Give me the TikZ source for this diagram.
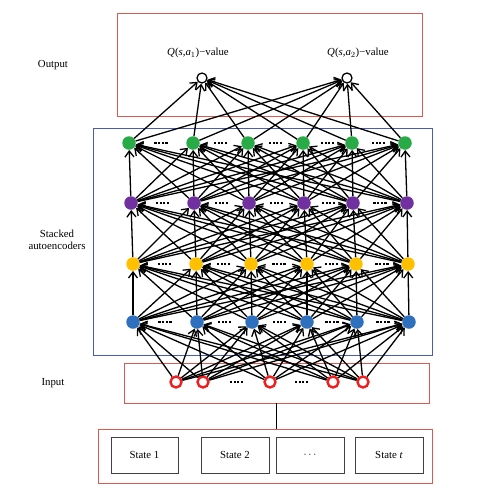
\documentclass[tikz,border=0pt]{standalone}
\usepackage{fontspec}
\setmainfont{Liberation Serif}
\usepackage{tikz}
\usetikzlibrary{arrows.meta,positioning,calc}

\definecolor{frameRed}{RGB}{222,88,78}
\definecolor{frameBlue}{RGB}{72,92,180}
\definecolor{nodeGreen}{RGB}{40,170,70}
\definecolor{nodePurple}{RGB}{112,48,160}
\definecolor{nodeYellow}{RGB}{255,192,0}
\definecolor{nodeBlue}{RGB}{46,112,190}
\definecolor{ringRed}{RGB}{240,30,30}

\newcommand{\fourdots}{\rule{2.2pt}{2.2pt}\hspace{1.5pt}\rule{2.2pt}{2.2pt}\hspace{1.5pt}\rule{2.2pt}{2.2pt}\hspace{1.5pt}\rule{2.2pt}{2.2pt}}

\begin{document}
\begin{tikzpicture}[x=1pt,y=-1pt,
  every node/.style={font=\fontsize{10.8}{12.5}\selectfont},
  unit/.style={circle, inner sep=0pt, minimum size=13.5pt},
  outunit/.style={circle, draw=black, line width=1.3pt, inner sep=0pt, minimum size=10pt},
  inunit/.style={circle, draw=ringRed, line width=2.4pt, inner sep=0pt, minimum size=11pt},
  frame/.style={draw, line width=0.9pt, inner sep=0pt},
  statebox/.style={draw=black!75, line width=1pt, minimum width=68pt, minimum height=36pt},
  edge/.style={line width=1.3pt, -{Straight Barb[length=6pt,width=9pt]}},
  dots/.style={inner sep=0pt}]

\useasboundingbox (0,0) rectangle (487,491);

% Frames
\node[frame, draw=frameRed, minimum width=305pt, minimum height=103pt] (outbox) at (269.5,64.5) {};
\node[frame, draw=frameBlue, minimum width=339pt, minimum height=227pt] (saebox) at (262.5,241.5) {};
\node[frame, draw=frameRed, minimum width=305pt, minimum height=40pt] (inbox) at (276.5,383) {};
\node[frame, draw=frameRed, minimum width=334pt, minimum height=54pt] (stbox) at (265,456) {};

% Side labels
\node (lout) at (53,65) {Output};
\node[align=center] (lsae) at (57,240) {Stacked\\autoencoders};
\node (lin) at (53,383) {Input};

% Output units
\node[outunit] (q1) at (202,78) {};
\node[outunit] (q2) at (347,78) {};
\node (lq1) at (198,53) {\textit{Q}(\textit{s},\textit{a}$_1$)−value};
\node (lq2) at (358,53) {\textit{Q}(\textit{s},\textit{a}$_2$)−value};

% Hidden layers
\foreach \x [count=\i] in {129,193,248,303,352,405}
  \node[unit, fill=nodeGreen] (g\i) at (\x,143) {};
\foreach \x [count=\i] in {131,194,249,304,353,407}
  \node[unit, fill=nodePurple] (p\i) at (\x,203) {};
\foreach \x [count=\i] in {133,196,251,307,356,408}
  \node[unit, fill=nodeYellow] (y\i) at (\x,264) {};
\foreach \x [count=\i] in {133,197,252,307,357,409}
  \node[unit, fill=nodeBlue] (b\i) at (\x,322) {};

% Input units
\foreach \x [count=\i] in {176,203,270,333,363}
  \node[inunit] (in\i) at (\x,382) {};

% Dots between units
\foreach \l in {g,p,y,b}
  \foreach \i/\j in {1/2,2/3,3/4,4/5,5/6}
    \node[dots] at ($(\l\i)!0.5!(\l\j)$) {\fourdots};
\node[dots] at ($(in2)!0.5!(in3)$) {\fourdots};
\node[dots] at ($(in3)!0.5!(in4)$) {\fourdots};

% Connections
\foreach \i in {1,...,5}
  \foreach \j in {1,...,6}
    \draw[edge] (in\i) -- (b\j);
\foreach \i in {1,...,6}
  \foreach \j in {1,...,6} {
    \draw[edge] (b\i) -- (y\j);
    \draw[edge] (y\i) -- (p\j);
    \draw[edge] (p\i) -- (g\j);
  }
\foreach \i in {1,...,6} {
  \draw[edge] (g\i) -- (q1);
  \draw[edge] (g\i) -- (q2);
}

% States
\node[statebox, minimum width=67pt] (s1) at (144.5,455) {State 1};
\node[statebox] (s2) at (235,455) {State 2};
\node[statebox] (s3) at (310,455) {$\cdots$};
\node[statebox] (s4) at (389,455) {State \textit{t}};

\draw[line width=1.2pt] (inbox.south) -- (inbox.south |- stbox.north);

\end{tikzpicture}
\end{document}
